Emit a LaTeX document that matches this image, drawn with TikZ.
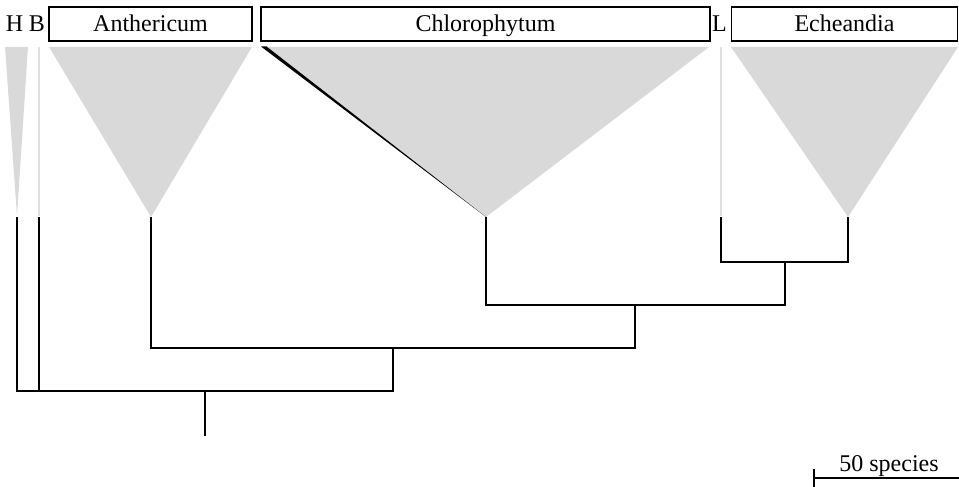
\documentclass[tikz,border=0pt]{standalone}
\usepackage{fontspec}
\setmainfont{Liberation Serif}
\begin{document}
\begin{tikzpicture}[x=1pt,y=-1pt,
  hdr/.style={draw, line width=1.2pt, minimum height=34pt, inner sep=0pt, text height=20pt, text depth=4pt, font=\fontsize{24}{24}\selectfont},
  lbl/.style={inner sep=0pt, anchor=base, font=\fontsize{24}{24}\selectfont},
  clade/.style={fill=black!15, draw=none},
  thin/.style={draw=black!12, line width=2pt},
  branch/.style={line width=1.6pt, line cap=rect}]
\useasboundingbox (0,0) rectangle (959,487);
% header boxes
\node[hdr, minimum width=203pt] (ant) at (150.5,24) {Anthericum};
\node[hdr, minimum width=449pt] (chl) at (485.5,24) {Chlorophytum};
\node[hdr, minimum width=226pt] (ech) at (844.5,24) {Echeandia};
\node[lbl] (H) at (14.5,32) {H};
\node[lbl] (B) at (37,32) {B};
\node[lbl] (L) at (719.5,32) {L};
% clade triangles
\fill[clade] (5,47) -- (28,47) -- (17,216) -- cycle;
\draw[thin] (38.5,47) -- (38.5,216);
\fill[clade] (49,47) -- (252,47) -- (151,217) -- cycle;
\fill[clade] (262,47) -- (709,47) -- (486,217) -- cycle;
\fill[black] (261,46.5) -- (266.5,46.5) -- (486,217) -- cycle;
\draw[thin] (720.5,47) -- (720.5,216);
\fill[clade] (731,47) -- (958,47) -- (848,217) -- cycle;
% tips
\coordinate (tH) at (17,218);
\coordinate (tB) at (39,218);
\coordinate (tA) at (151,218);
\coordinate (tC) at (486,218);
\coordinate (tL) at (721,218);
\coordinate (tE) at (848,218);
% internal nodes
\coordinate (nLE) at (785,262);
\coordinate (nCLE) at (635,305);
\coordinate (nACLE) at (393,348);
\coordinate (root) at (205,391);
\coordinate (rootend) at (205,435);
% branches
\draw[branch] (tL) |- (nLE) -| (tE);
\draw[branch] (nLE) -- (785,305);
\draw[branch] (tC) |- (nCLE);
\draw[branch] (nCLE) -- (785,305);
\draw[branch] (nCLE) -- (635,348);
\draw[branch] (tA) |- (nACLE);
\draw[branch] (nACLE) -- (635,348);
\draw[branch] (nACLE) -- (393,391);
\draw[branch] (tH) |- (root);
\draw[branch] (tB) -- (39,391);
\draw[branch] (root) -- (393,391);
\draw[branch] (root) -- (rootend);
% scale bar
\coordinate (sb1) at (814,478);
\coordinate (sb2) at (959,478);
\draw[line width=1.2pt] (sb1) -- (sb2);
\draw[line width=1.2pt] (814,469) -- (814,487);
\node[lbl] (scale) at (889,471) {50 species};
\end{tikzpicture}
\end{document}
